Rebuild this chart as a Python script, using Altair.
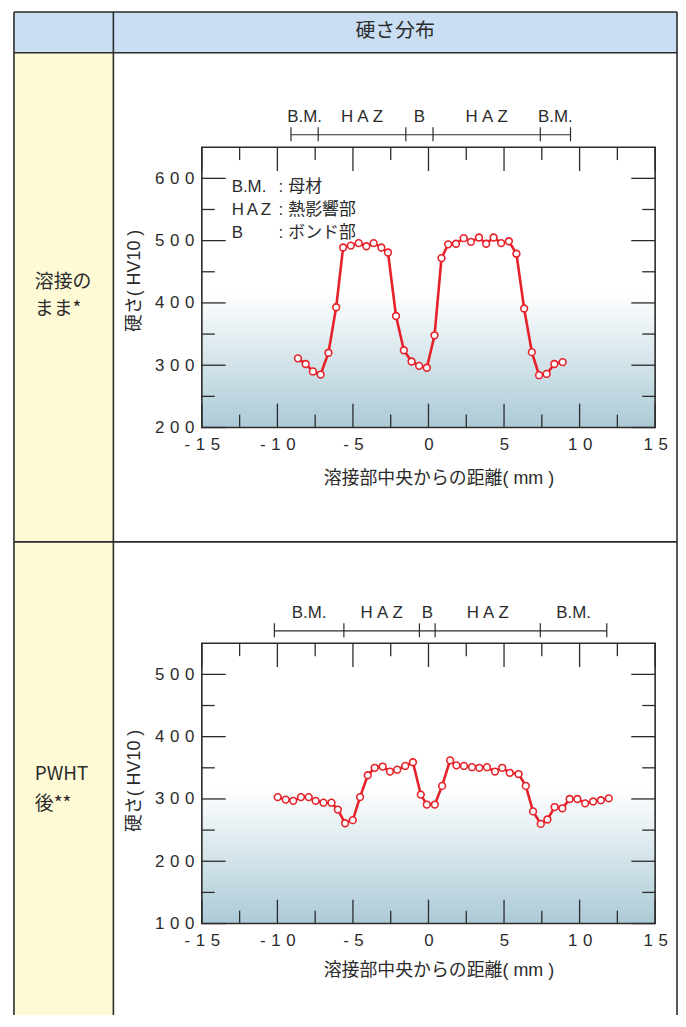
import altair as alt
import pandas as pd

# ---- data ----
aw_x = [-8.64, -8.13, -7.65, -7.14, -6.62, -6.11, -5.65, -5.14, -4.62, -4.11, -3.63, -3.12,
        -2.68, -2.15, -1.63, -1.12, -0.62, -0.11, 0.40, 0.86, 1.30, 1.82, 2.33, 2.81,
        3.34, 3.82, 4.31, 4.81, 5.32, 5.82, 6.33, 6.84, 7.32, 7.82, 8.33, 8.88]
aw_hv = [311, 302, 290, 285, 320, 393, 489, 492, 496, 491, 496, 489,
         481, 379, 324, 306, 299, 296, 348, 472, 494, 495, 504, 498,
         505, 495, 505, 496, 499, 479, 391, 321, 284, 286, 302, 305]

pw_x = [-9.98, -9.45, -8.95, -8.44, -7.93, -7.47, -6.95, -6.42, -6.00, -5.52, -5.01, -4.53,
        -4.02, -3.56, -3.03, -2.55, -2.07, -1.54, -1.03, -0.51, -0.11, 0.42, 0.90, 1.43,
        1.85, 2.35, 2.88, 3.36, 3.87, 4.40, 4.88, 5.38, 5.96, 6.44, 6.92, 7.43, 7.87,
        8.35, 8.86, 9.34, 9.85, 10.37, 10.90, 11.41, 11.93]
pw_hv = [303, 299, 297, 303, 303, 297, 294, 294, 283, 261, 266, 303,
         338, 350, 352, 344, 347, 353, 359, 307, 291, 291, 321, 362,
         354, 353, 351, 350, 351, 344, 350, 342, 340, 321, 280, 260, 267,
         287, 285, 300, 300, 293, 296, 298, 301]

aw_zone = [-9.1, -7.3, -1.5, 0.3, 7.4, 9.4]
pw_zone = [-10.2, -5.6, -0.6, 0.44, 7.4, 11.8]
zone_names = ["B.M.", "HAZ", "B", "HAZ", "B.M."]

x_major = [-15, -10, -5, 0, 5, 10, 15]
x_minor = [-12.5, -7.5, -2.5, 2.5, 7.5, 12.5]
aw_y_major = [200, 300, 400, 500, 600]
aw_y_minor = [250, 350, 450, 550]
pw_y_major = [100, 200, 300, 400, 500]
pw_y_minor = [150, 250, 350, 450]
aw_domain = [200, 650]
pw_domain = [100, 550]

legend_abbr = ["B.M.", "HAZ", "B"]
legend_desc = ["母材", "熱影響部", "ボンド部"]
header_text = "硬さ分布"
aw_row_label = ["溶接の", "まま*"]
pw_row_label = ["PWHT", "後**"]
x_title = "溶接部中央からの距離( mm )"
y_title = "硬さ( HV10 )"

# ---- styling ----
W, H = 456, 282
LAT = "'Liberation Sans', 'Noto Sans CJK JP', sans-serif"
CJK = "'Noto Sans CJK JP', 'Liberation Sans', sans-serif"
INK = "#2b2b2b"
RED = "#e62129"
BLUE = "#c9def3"
YELLOW = "#fffad6"
GAP = "\u2004"
SPACED = "join(split(toString(datum.value), ''), '" + GAP + "')"
GRAD = {"gradient": "linear", "x1": 0, "y1": 0, "x2": 0, "y2": 1,
        "stops": [{"offset": 0, "color": "#ffffff"},
                  {"offset": 0.52, "color": "#ffffff"},
                  {"offset": 1, "color": "#abcad6"}]}
L, M, R = -189, -89, 478
TOP = -136


def track(s, gap):
    """letter-spaced display of all-capital abbreviations (typographic tracking)"""
    if s.isalpha() and s.isupper():
        return gap.join(s)
    return s


one = alt.Data(values=[{"k": 0}])


def vrule(x, y1, y2):
    return alt.Chart(one).mark_rule(color=INK, strokeWidth=1.6).encode(
        x=alt.value(x), y=alt.value(y1), y2=alt.value(y2))


def hrule(y, x1, x2):
    return alt.Chart(one).mark_rule(color=INK, strokeWidth=1.6).encode(
        x=alt.value(x1), x2=alt.value(x2), y=alt.value(y))


def fillrect(x1, x2, y1, y2, color):
    return alt.Chart(one).mark_rect(fill=color).encode(
        x=alt.value(x1), x2=alt.value(x2), y=alt.value(y1), y2=alt.value(y2))


def label(text, x, y, size, font, align="left", line_height=None):
    kw = dict(text=text, font=font, fontSize=size, color=INK, align=align, baseline="middle")
    if line_height is not None:
        kw["lineHeight"] = line_height
    return alt.Chart(one).mark_text(**kw).encode(x=alt.value(x), y=alt.value(y))


def panel(xs, hv, zone, ydom, ymaj, ymin, is_top):
    xsc = alt.Scale(domain=[-15, 15], nice=False, zero=False)
    ysc = alt.Scale(domain=ydom, nice=False, zero=False)

    def xt(vals, length, top):
        d = pd.DataFrame({"x": vals})
        return alt.Chart(d).mark_rule(color=INK, strokeWidth=1.3).encode(
            x=alt.X("x:Q", scale=xsc, axis=None),
            y=alt.value(0 if top else H), y2=alt.value(length if top else H - length))

    def yt(vals, length, right):
        d = pd.DataFrame({"y": vals})
        return alt.Chart(d).mark_rule(color=INK, strokeWidth=1.3).encode(
            y=alt.Y("y:Q", scale=ysc, axis=None),
            x=alt.value(W if right else 0), x2=alt.value(W - length if right else length))

    xaxis = alt.Axis(values=x_major, labelExpr=SPACED, ticks=False, domain=False, grid=False,
                     labelFlush=False, labelOverlap=False, labelFont=LAT, labelFontSize=17,
                     labelColor=INK, labelPadding=9, title=x_title, titleFont=LAT,
                     titleFontSize=18, titleFontWeight="normal", titleColor=INK,
                     titleX=238, titleY=51 if is_top else 47, titleBaseline="middle",
                     titleAlign="center")
    yaxis = alt.Axis(values=ymaj, labelExpr=SPACED, ticks=False, domain=False, grid=False,
                     labelFlush=False, labelOverlap=False, labelFont=LAT, labelFontSize=17,
                     labelColor=INK, labelPadding=8, title=y_title, titleFont=LAT,
                     titleFontSize=18, titleFontWeight="normal", titleColor=INK,
                     titleX=-68, titleY=134 if is_top else 138, titleBaseline="middle",
                     titleAlign="center")

    d = pd.DataFrame({"x": xs, "y": hv})
    line = alt.Chart(d).mark_line(color=RED, strokeWidth=2.6).encode(
        x=alt.X("x:Q", scale=xsc, axis=xaxis), y=alt.Y("y:Q", scale=ysc, axis=yaxis))
    pts = alt.Chart(d).mark_circle(fill="white", stroke=RED, strokeWidth=1.6, size=46,
                                   opacity=1).encode(
        x=alt.X("x:Q", scale=xsc, axis=None), y=alt.Y("y:Q", scale=ysc, axis=None))

    zbar = alt.Chart(pd.DataFrame({"a": [zone[0]], "b": [zone[-1]]})).mark_rule(
        color=INK, strokeWidth=1.2).encode(
        x=alt.X("a:Q", scale=xsc, axis=None), x2="b:Q", y=alt.value(-12.5))
    zticks = alt.Chart(pd.DataFrame({"x": zone})).mark_rule(color=INK, strokeWidth=1.2).encode(
        x=alt.X("x:Q", scale=xsc, axis=None), y=alt.value(-20), y2=alt.value(-6))
    mids = [(zone[i] + zone[i + 1]) / 2 for i in range(len(zone) - 1)]
    zlab = alt.Chart(pd.DataFrame({"x": mids,
                                   "t": [track(n, "\u2005") for n in zone_names]})).mark_text(
        font=LAT, fontSize=17, color=INK, baseline="middle", align="center").encode(
        x=alt.X("x:Q", scale=xsc, axis=None), y=alt.value(-30), text="t:N")

    grad = alt.Chart(one).mark_rect(fill=GRAD).encode(
        x=alt.value(0), x2=alt.value(W), y=alt.value(0), y2=alt.value(H))
    border = alt.Chart(one).mark_rect(fillOpacity=0, stroke=INK, strokeWidth=1.6).encode(
        x=alt.value(0), x2=alt.value(W), y=alt.value(0), y2=alt.value(H))

    layers = []
    if is_top:
        layers += [fillrect(L, R, TOP, -95, BLUE), fillrect(L, M, -95, 397, YELLOW)]
    else:
        layers += [fillrect(L, M, -102, 374, YELLOW)]
    layers += [grad,
               xt(x_major, 24, False), xt(x_minor, 13, False),
               xt(x_major, 24, True), xt(x_minor, 13, True),
               yt(ymaj, 24, False), yt(ymin, 13, False),
               yt(ymaj, 24, True), yt(ymin, 13, True),
               line, pts, zbar, zticks, zlab, border]
    if is_top:
        layers += [
            label([track(a, "\u2006") for a in legend_abbr], 30, 40, 17, LAT, line_height=23),
            label([":", ":", ":"], 77, 40, 17, LAT, line_height=23),
            label(legend_desc, 87, 40, 17, CJK, line_height=23),
            hrule(TOP, L, R), hrule(-95, L, R),
            vrule(L, TOP, 397), vrule(M, TOP, 397), vrule(R, TOP, 397),
            label(header_text, (M + R) / 2, -117, 20, CJK, align="center"),
            label(aw_row_label[0], -168, 136, 19, CJK),
            label(aw_row_label[1], -168, 163, 19, CJK),
        ]
    else:
        layers += [
            hrule(-102, L, R),
            vrule(L, -102, 374), vrule(M, -102, 374), vrule(R, -102, 374),
            label(pw_row_label[0], -168, 132, 19, CJK),
            label(pw_row_label[1], -168, 162, 19, CJK),
        ]
    return alt.layer(*layers).resolve_axis(x="independent", y="independent").properties(
        width=W, height=H)


top = panel(aw_x, aw_hv, aw_zone, aw_domain, aw_y_major, aw_y_minor, True)
bottom = panel(pw_x, pw_hv, pw_zone, pw_domain, pw_y_major, pw_y_minor, False)

chart = alt.vconcat(top, bottom, spacing=217, bounds="flush").properties(
    padding={"left": 5, "top": 0, "right": 0, "bottom": 0},
    background="white",
).configure_view(stroke=None)

chart.save("out.html", embed_options={"renderer": "svg", "actions": False})
